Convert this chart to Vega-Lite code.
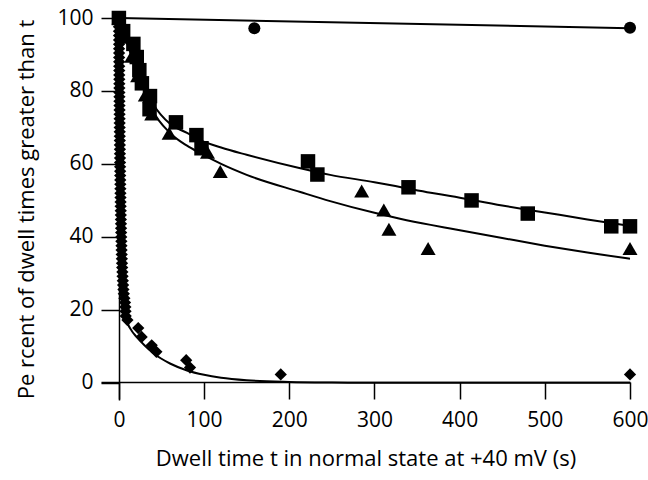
{
  "$schema": "https://vega.github.io/schema/vega-lite/v6.json",
  "width": 529,
  "height": 382,
  "autosize": {"type": "none"},
  "padding": {"left": 101, "top": 18, "right": 18, "bottom": 80},
  "config": {
    "font": "Open Sans",
    "view": {"stroke": null},
    "axis": {
      "grid": false,
      "domainColor": "black",
      "tickColor": "black",
      "labelColor": "black",
      "titleColor": "black",
      "domainWidth": 1.5,
      "tickWidth": 1.5,
      "labelFontSize": 21,
      "titleFontSize": 22,
      "titleFontWeight": "normal",
      "labelFlush": false
    }
  },
  "datasets": {
    "fits": [
      {"s": "circle", "t": 0, "p": 100},
      {"s": "circle", "t": 600, "p": 97.2},
      {"s": "square", "t": 0, "p": 100},
      {"s": "square", "t": 10, "p": 93},
      {"s": "square", "t": 20, "p": 87},
      {"s": "square", "t": 30, "p": 81},
      {"s": "square", "t": 40, "p": 76.5},
      {"s": "square", "t": 60, "p": 71},
      {"s": "square", "t": 80, "p": 68.5},
      {"s": "square", "t": 95, "p": 66.6},
      {"s": "square", "t": 120, "p": 64.5},
      {"s": "square", "t": 150, "p": 62.5},
      {"s": "square", "t": 213, "p": 58.8},
      {"s": "square", "t": 248, "p": 57},
      {"s": "square", "t": 300, "p": 55},
      {"s": "square", "t": 330, "p": 53.7},
      {"s": "square", "t": 366, "p": 52.1},
      {"s": "square", "t": 389, "p": 51.2},
      {"s": "square", "t": 450, "p": 48.6},
      {"s": "square", "t": 500, "p": 46.7},
      {"s": "square", "t": 550, "p": 44.8},
      {"s": "square", "t": 600, "p": 43},
      {"s": "triangle", "t": 0, "p": 100},
      {"s": "triangle", "t": 10, "p": 93},
      {"s": "triangle", "t": 20, "p": 86},
      {"s": "triangle", "t": 30, "p": 80},
      {"s": "triangle", "t": 40, "p": 74.5},
      {"s": "triangle", "t": 60, "p": 68.5},
      {"s": "triangle", "t": 80, "p": 65},
      {"s": "triangle", "t": 95, "p": 63},
      {"s": "triangle", "t": 120, "p": 60},
      {"s": "triangle", "t": 150, "p": 57},
      {"s": "triangle", "t": 213, "p": 52.3},
      {"s": "triangle", "t": 248, "p": 49.8},
      {"s": "triangle", "t": 300, "p": 46.6},
      {"s": "triangle", "t": 330, "p": 45},
      {"s": "triangle", "t": 366, "p": 43.3},
      {"s": "triangle", "t": 389, "p": 42.3},
      {"s": "triangle", "t": 450, "p": 39.7},
      {"s": "triangle", "t": 500, "p": 37.6},
      {"s": "triangle", "t": 550, "p": 35.7},
      {"s": "triangle", "t": 600, "p": 34},
      {"s": "diamond", "t": 0, "p": 100},
      {"s": "diamond", "t": 0.5, "p": 82.1},
      {"s": "diamond", "t": 1, "p": 68.1},
      {"s": "diamond", "t": 1.5, "p": 57.1},
      {"s": "diamond", "t": 2, "p": 48.6},
      {"s": "diamond", "t": 3, "p": 36.6},
      {"s": "diamond", "t": 4, "p": 29.1},
      {"s": "diamond", "t": 5, "p": 24.5},
      {"s": "diamond", "t": 6, "p": 21.5},
      {"s": "diamond", "t": 8, "p": 18.2},
      {"s": "diamond", "t": 10, "p": 16.5},
      {"s": "diamond", "t": 15, "p": 14.3},
      {"s": "diamond", "t": 20, "p": 12.8},
      {"s": "diamond", "t": 30, "p": 10.3},
      {"s": "diamond", "t": 40, "p": 8.2},
      {"s": "diamond", "t": 50, "p": 6.6},
      {"s": "diamond", "t": 60, "p": 5.3},
      {"s": "diamond", "t": 80, "p": 3.4},
      {"s": "diamond", "t": 100, "p": 2.2},
      {"s": "diamond", "t": 120, "p": 1.4},
      {"s": "diamond", "t": 150, "p": 0.71},
      {"s": "diamond", "t": 200, "p": 0.24},
      {"s": "diamond", "t": 250, "p": 0.08},
      {"s": "diamond", "t": 300, "p": 0.03},
      {"s": "diamond", "t": 400, "p": 0},
      {"s": "diamond", "t": 600, "p": 0}
    ],
    "pts": [
      {"s": "circle", "t": 0, "p": 100},
      {"s": "circle", "t": 159, "p": 97.2},
      {"s": "circle", "t": 600, "p": 97.3},
      {"s": "triangle", "t": 0, "p": 100},
      {"s": "triangle", "t": 8, "p": 94.7},
      {"s": "triangle", "t": 15, "p": 89.5},
      {"s": "triangle", "t": 22, "p": 84.2},
      {"s": "triangle", "t": 31, "p": 78.9},
      {"s": "triangle", "t": 38.5, "p": 73.7},
      {"s": "triangle", "t": 59, "p": 68.4},
      {"s": "triangle", "t": 104, "p": 63.2},
      {"s": "triangle", "t": 119, "p": 57.9},
      {"s": "triangle", "t": 285, "p": 52.6},
      {"s": "triangle", "t": 311, "p": 47.4},
      {"s": "triangle", "t": 317, "p": 42.1},
      {"s": "triangle", "t": 363, "p": 36.8},
      {"s": "triangle", "t": 600, "p": 36.8},
      {"s": "square", "t": 0, "p": 100},
      {"s": "square", "t": 5, "p": 96.4},
      {"s": "square", "t": 17, "p": 92.9},
      {"s": "square", "t": 21, "p": 89.3},
      {"s": "square", "t": 24, "p": 85.7},
      {"s": "square", "t": 27, "p": 82.1},
      {"s": "square", "t": 36.5, "p": 78.6},
      {"s": "square", "t": 36, "p": 75},
      {"s": "square", "t": 67, "p": 71.4},
      {"s": "square", "t": 91, "p": 67.9},
      {"s": "square", "t": 97, "p": 64.3},
      {"s": "square", "t": 222, "p": 60.7},
      {"s": "square", "t": 233, "p": 57.1},
      {"s": "square", "t": 340, "p": 53.6},
      {"s": "square", "t": 414, "p": 50},
      {"s": "square", "t": 480, "p": 46.4},
      {"s": "square", "t": 578, "p": 42.9},
      {"s": "square", "t": 600, "p": 42.9},
      {"s": "diamond", "t": 0, "p": 100},
      {"s": "diamond", "t": 0.03, "p": 98.8},
      {"s": "diamond", "t": 0.06, "p": 97.6},
      {"s": "diamond", "t": 0.09, "p": 96.4},
      {"s": "diamond", "t": 0.12, "p": 95.2},
      {"s": "diamond", "t": 0.16, "p": 94},
      {"s": "diamond", "t": 0.19, "p": 92.8},
      {"s": "diamond", "t": 0.22, "p": 91.6},
      {"s": "diamond", "t": 0.26, "p": 90.4},
      {"s": "diamond", "t": 0.29, "p": 89.2},
      {"s": "diamond", "t": 0.33, "p": 88},
      {"s": "diamond", "t": 0.36, "p": 86.8},
      {"s": "diamond", "t": 0.4, "p": 85.6},
      {"s": "diamond", "t": 0.43, "p": 84.4},
      {"s": "diamond", "t": 0.47, "p": 83.2},
      {"s": "diamond", "t": 0.51, "p": 82},
      {"s": "diamond", "t": 0.55, "p": 80.8},
      {"s": "diamond", "t": 0.59, "p": 79.6},
      {"s": "diamond", "t": 0.63, "p": 78.4},
      {"s": "diamond", "t": 0.67, "p": 77.2},
      {"s": "diamond", "t": 0.71, "p": 76},
      {"s": "diamond", "t": 0.76, "p": 74.8},
      {"s": "diamond", "t": 0.8, "p": 73.6},
      {"s": "diamond", "t": 0.85, "p": 72.4},
      {"s": "diamond", "t": 0.89, "p": 71.2},
      {"s": "diamond", "t": 0.94, "p": 70},
      {"s": "diamond", "t": 0.99, "p": 68.8},
      {"s": "diamond", "t": 1.04, "p": 67.6},
      {"s": "diamond", "t": 1.09, "p": 66.4},
      {"s": "diamond", "t": 1.14, "p": 65.2},
      {"s": "diamond", "t": 1.2, "p": 64},
      {"s": "diamond", "t": 1.25, "p": 62.8},
      {"s": "diamond", "t": 1.31, "p": 61.6},
      {"s": "diamond", "t": 1.37, "p": 60.4},
      {"s": "diamond", "t": 1.43, "p": 59.2},
      {"s": "diamond", "t": 1.49, "p": 58},
      {"s": "diamond", "t": 1.55, "p": 56.8},
      {"s": "diamond", "t": 1.62, "p": 55.6},
      {"s": "diamond", "t": 1.69, "p": 54.4},
      {"s": "diamond", "t": 1.76, "p": 53.2},
      {"s": "diamond", "t": 1.83, "p": 52},
      {"s": "diamond", "t": 1.91, "p": 50.8},
      {"s": "diamond", "t": 1.99, "p": 49.6},
      {"s": "diamond", "t": 2.07, "p": 48.4},
      {"s": "diamond", "t": 2.16, "p": 47.2},
      {"s": "diamond", "t": 2.25, "p": 46},
      {"s": "diamond", "t": 2.34, "p": 44.8},
      {"s": "diamond", "t": 2.44, "p": 43.6},
      {"s": "diamond", "t": 2.55, "p": 42.4},
      {"s": "diamond", "t": 2.66, "p": 41.2},
      {"s": "diamond", "t": 2.77, "p": 40},
      {"s": "diamond", "t": 2.9, "p": 38.8},
      {"s": "diamond", "t": 3.03, "p": 37.6},
      {"s": "diamond", "t": 3.17, "p": 36.4},
      {"s": "diamond", "t": 3.32, "p": 35.2},
      {"s": "diamond", "t": 3.49, "p": 34},
      {"s": "diamond", "t": 3.67, "p": 32.8},
      {"s": "diamond", "t": 3.86, "p": 31.6},
      {"s": "diamond", "t": 4.08, "p": 30.4},
      {"s": "diamond", "t": 4.33, "p": 29.2},
      {"s": "diamond", "t": 4.61, "p": 28},
      {"s": "diamond", "t": 4.93, "p": 26.8},
      {"s": "diamond", "t": 5.32, "p": 25.6},
      {"s": "diamond", "t": 5.8, "p": 24.4},
      {"s": "diamond", "t": 6.44, "p": 23.2},
      {"s": "diamond", "t": 7.2, "p": 22},
      {"s": "diamond", "t": 7.6, "p": 20.8},
      {"s": "diamond", "t": 7.8, "p": 19.6},
      {"s": "diamond", "t": 8, "p": 18.3},
      {"s": "diamond", "t": 10, "p": 17.2},
      {"s": "diamond", "t": 22.7, "p": 15},
      {"s": "diamond", "t": 26.7, "p": 12.6},
      {"s": "diamond", "t": 38.5, "p": 10.3},
      {"s": "diamond", "t": 44, "p": 8.5},
      {"s": "diamond", "t": 79, "p": 6.2},
      {"s": "diamond", "t": 83.5, "p": 4.2},
      {"s": "diamond", "t": 190, "p": 2.3},
      {"s": "diamond", "t": 600, "p": 2.3}
    ]
  },
  "encoding": {
    "x": {
      "field": "t",
      "type": "quantitative",
      "scale": {"domain": [-21, 600], "nice": false, "zero": false},
      "axis": {
        "title": "Dwell time t in normal state at +40 mV (s)",
        "values": [0, 100, 200, 300, 400, 500, 600],
        "offset": -18,
        "tickSize": 17,
        "labelPadding": 10,
        "titlePadding": 18
      }
    },
    "y": {
      "field": "p",
      "type": "quantitative",
      "scale": {"domain": [-4.7, 100], "nice": false, "zero": false},
      "axis": {
        "title": "Pe rcent of dwell times greater than t",
        "values": [0, 20, 40, 60, 80, 100],
        "offset": -18,
        "tickSize": 18,
        "labelPadding": 8,
        "titlePadding": 18
      }
    }
  },
  "layer": [
    {
      "data": {"name": "fits"},
      "mark": {"type": "line", "color": "black", "strokeWidth": 2, "interpolate": "monotone"},
      "encoding": {"detail": {"field": "s"}, "order": {"field": "t"}}
    },
    {
      "data": {"name": "pts"},
      "transform": [{"filter": "datum.s === 'diamond'"}],
      "mark": {"type": "point", "shape": "diamond", "filled": true, "color": "black", "opacity": 1, "size": 150}
    },
    {
      "data": {"name": "pts"},
      "transform": [{"filter": "datum.s === 'triangle'"}],
      "mark": {"type": "point", "shape": "triangle-up", "filled": true, "color": "black", "opacity": 1, "size": 225}
    },
    {
      "data": {"name": "pts"},
      "transform": [{"filter": "datum.s === 'square'"}],
      "mark": {"type": "point", "shape": "square", "filled": true, "color": "black", "opacity": 1, "size": 210}
    },
    {
      "data": {"name": "pts"},
      "transform": [{"filter": "datum.s === 'circle'"}],
      "mark": {"type": "point", "shape": "circle", "filled": true, "color": "black", "opacity": 1, "size": 145}
    }
  ]
}
